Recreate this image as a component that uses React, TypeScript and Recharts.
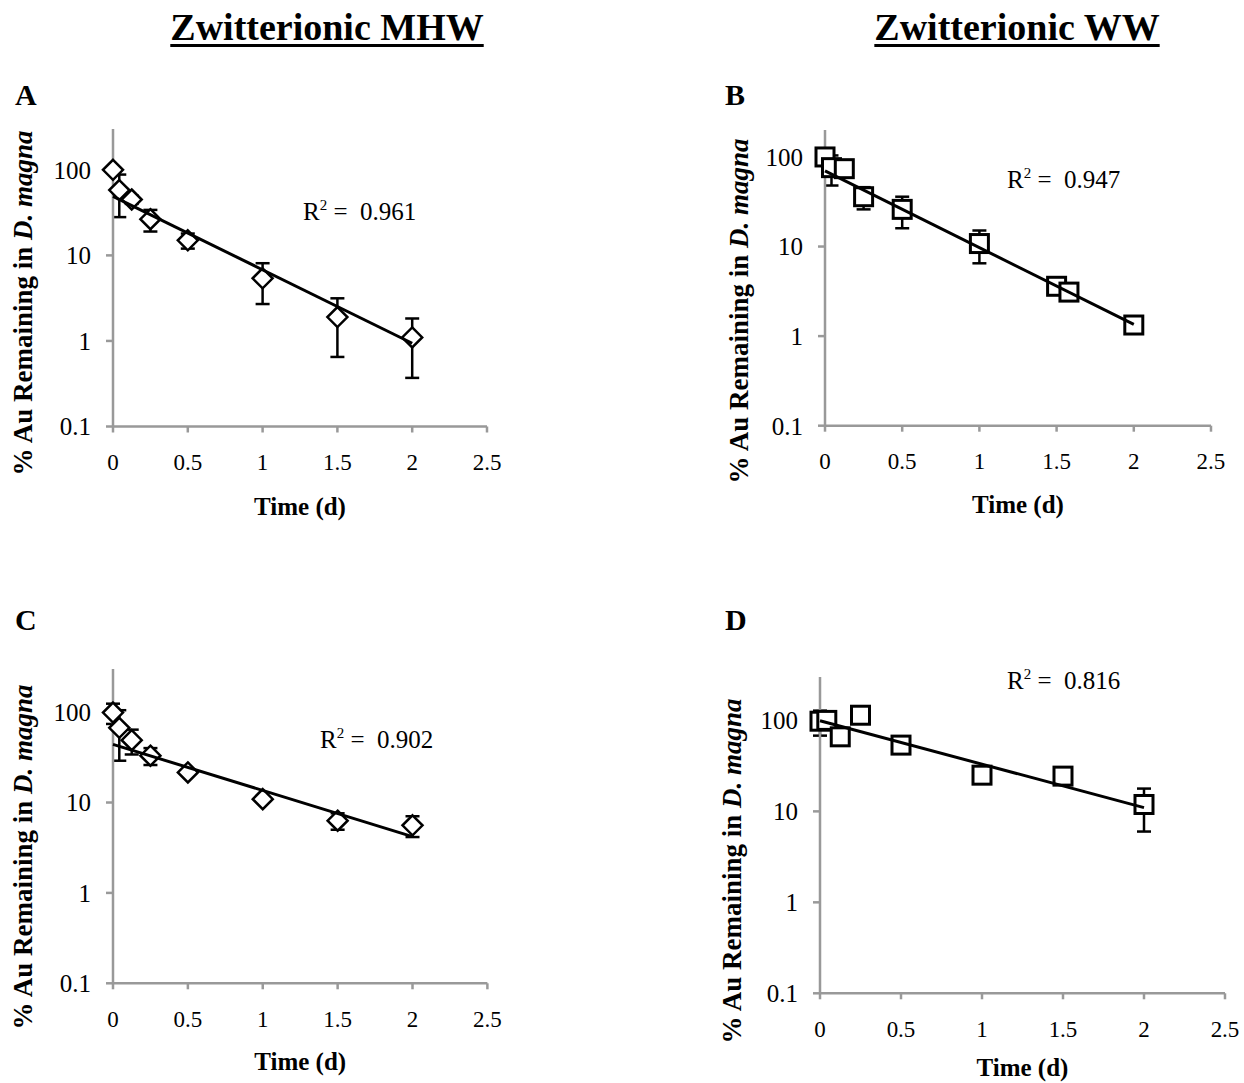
import { ScatterChart, Scatter, XAxis, YAxis, ErrorBar } from "recharts"

// sampling times (d)
const timesA = [0, 0.042, 0.125, 0.25, 0.5, 1, 1.5, 2]
const timesB = [0, 0.042, 0.125, 0.25, 0.5, 1, 1.5, 1.58, 2]
const timesC = [0, 0.042, 0.125, 0.25, 0.5, 1, 1.5, 2]
const timesD = [0, 0.042, 0.125, 0.25, 0.5, 1, 1.5, 2]

// % Au remaining (mean) and error (+/-)
const valuesA = [100, 58, 45, 26.5, 15, 5.4, 1.9, 1.1]
const errorsA = [0, 30, 5, 7.5, 3, 2.7, 1.25, 0.73]
const valuesB = [100, 76, 74, 36, 26, 10.8, 3.6, 3.1, 1.33]
const errorsB = [0, 28, 0, 10, 10, 4.3, 0, 0, 0]
const valuesC = [99, 67, 49, 33, 21.5, 10.9, 6.3, 5.6]
const errorsC = [25, 38, 15, 7, 0, 0, 1.3, 1.45]
const valuesD = [98, 100, 66, 114, 53.5, 25, 24.4, 11.9]
const errorsD = [30, 0, 0, 0, 0, 3, 0, 5.9]

// exponential trendline, value at start and end of fit
const trendTimes = [0, 2]
const trendA = [49, 0.94]
const trendB = [70, 1.35]
const trendC = [44, 4.2]
const trendD = [99, 11]

const r2Labels = ["0.961", "0.947", "0.902", "0.816"]
const xTicks = [0, 0.5, 1, 1.5, 2, 2.5]
const yTicks = [0.1, 1, 10, 100]

const FONT = '"Liberation Serif", "Times New Roman", serif'

const build = (t: number[], v: number[], e: number[]) =>
  t.map((x, i) => ({ t: x, v: v[i], e: e[i] }))
const buildTrend = (v: number[]) => trendTimes.map((x, i) => ({ t: x, v: v[i] }))

const Diamond = (props: any) => {
  const { cx, cy } = props
  if (cx == null || cy == null) return <g />
  const r = 10
  return (
    <path
      d={`M${cx},${cy - r}L${cx + r},${cy}L${cx},${cy + r}L${cx - r},${cy}Z`}
      fill="#fff"
      stroke="#000"
      strokeWidth={2.5}
    />
  )
}

const Square = (props: any) => {
  const { cx, cy } = props
  if (cx == null || cy == null) return <g />
  return <rect x={cx - 9} y={cy - 9} width={18} height={18} fill="#fff" stroke="#000" strokeWidth={3} />
}

const NoDot = () => <g />

interface PanelProps {
  data: { t: number; v: number; e: number }[]
  trend: { t: number; v: number }[]
  marker: "diamond" | "square"
  plot: { left: number; top: number; right: number; bottom: number }
  yMax: number
  xTitleY: number
  yTitleX: number
  yTitleY: number
}

const Panel = ({ data, trend, marker, plot, yMax, xTitleY, yTitleX, yTitleY }: PanelProps) => {
  const chartLeft = plot.left - 110
  const chartTop = plot.top - 10
  const width = plot.right - plot.left + 150
  const height = plot.bottom - plot.top + 110
  const xt = (plot.left + plot.right) / 2 - chartLeft
  const yt = xTitleY - chartTop
  const ytx = yTitleX - chartLeft
  const yty = yTitleY - chartTop

  return (
    <div style={{ position: "absolute", left: chartLeft, top: chartTop }}>
      <ScatterChart width={width} height={height} margin={{ top: 10, right: 40, left: 0, bottom: 0 }}>
        <XAxis
          dataKey="t"
          type="number"
          domain={[0, 2.5]}
          ticks={xTicks}
          height={100}
          axisLine={{ stroke: "#999", strokeWidth: 2.5 }}
          tickLine={{ stroke: "#999", strokeWidth: 2.5 }}
          tickSize={6}
          tickMargin={21}
          tick={{ fill: "#000", fontSize: 23, fontFamily: FONT }}
          label={{
            content: () => (
              <text
                x={xt}
                y={yt}
                textAnchor="middle"
                dominantBaseline="central"
                fontFamily={FONT}
                fontWeight="bold"
                fontSize={25}>
                Time (d)
              </text>
            ),
          }}
        />
        <YAxis
          dataKey="v"
          type="number"
          scale="log"
          domain={[0.1, yMax]}
          ticks={yTicks}
          width={110}
          axisLine={{ stroke: "#999", strokeWidth: 2.5 }}
          tickLine={{ stroke: "#999", strokeWidth: 2.5 }}
          tickSize={7}
          tickMargin={15}
          tick={{ fill: "#000", fontSize: 25, fontFamily: FONT }}
          tickFormatter={(v: number) => String(v)}
          label={{
            content: () => (
              <text
                x={ytx}
                y={yty}
                transform={`rotate(-90 ${ytx} ${yty})`}
                textAnchor="middle"
                dominantBaseline="central"
                fontFamily={FONT}
                fontWeight="bold"
                fontSize={27}>
                % Au Remaining in <tspan fontStyle="italic">D. magna</tspan>
              </text>
            ),
          }}
        />
        <Scatter
          data={data}
          dataKey="v"
          shape={marker === "diamond" ? Diamond : Square}
          isAnimationActive={false}>
          <ErrorBar dataKey="e" direction="y" width={7} stroke="#000" strokeWidth={2.5} />
        </Scatter>
        <Scatter
          data={trend}
          dataKey="v"
          line={{ stroke: "#000", strokeWidth: 3 }}
          shape={NoDot}
          isAnimationActive={false}
        />
      </ScatterChart>
    </div>
  )
}

const R2 = ({ x, y, value }: { x: number; y: number; value: string }) => (
  <text x={x} y={y} fontFamily={FONT} fontSize={25} style={{ whiteSpace: "pre" }}>
    R
    <tspan dy={-10} fontSize={15}>
      2
    </tspan>
    <tspan dy={10}>{" =  " + value}</tspan>
  </text>
)

const headerStyle = {
  position: "absolute" as const,
  top: 8,
  transform: "translateX(-50%)",
  fontFamily: FONT,
  fontWeight: "bold" as const,
  fontSize: 38,
  lineHeight: "38px",
  textDecoration: "underline",
  textDecorationThickness: "3px",
  textUnderlineOffset: "4px",
  whiteSpace: "nowrap" as const,
}

export default function App() {
  return (
    <div style={{ position: "absolute", left: 0, top: 0, width: 1244, height: 1083, background: "#fff" }}>
      <div style={{ ...headerStyle, left: 327 }}>Zwitterionic MHW</div>
      <div style={{ ...headerStyle, left: 1017 }}>Zwitterionic WW</div>

      <Panel
        data={build(timesA, valuesA, errorsA)}
        trend={buildTrend(trendA)}
        marker="diamond"
        plot={{ left: 113, top: 129, right: 487, bottom: 426.5 }}
        yMax={300}
        xTitleY={506}
        yTitleX={23}
        yTitleY={303}
      />
      <Panel
        data={build(timesB, valuesB, errorsB)}
        trend={buildTrend(trendB)}
        marker="square"
        plot={{ left: 825, top: 130, right: 1211, bottom: 425.7 }}
        yMax={200}
        xTitleY={505}
        yTitleX={739}
        yTitleY={311}
      />
      <Panel
        data={build(timesC, valuesC, errorsC)}
        trend={buildTrend(trendC)}
        marker="diamond"
        plot={{ left: 113.3, top: 669, right: 487.7, bottom: 983.3 }}
        yMax={300}
        xTitleY={1062}
        yTitleX={23}
        yTitleY={857}
      />
      <Panel
        data={build(timesD, valuesD, errorsD)}
        trend={buildTrend(trendD)}
        marker="square"
        plot={{ left: 820, top: 677, right: 1225, bottom: 993.3 }}
        yMax={300}
        xTitleY={1068}
        yTitleX={732}
        yTitleY={871}
      />

      <svg
        width={1244}
        height={1083}
        style={{ position: "absolute", left: 0, top: 0, pointerEvents: "none" }}>
        <g fontFamily={FONT} fontWeight="bold" fontSize={30}>
          <text x={15} y={105}>A</text>
          <text x={725} y={105}>B</text>
          <text x={15} y={630}>C</text>
          <text x={725} y={630}>D</text>
        </g>
        <R2 x={303} y={220} value={r2Labels[0]} />
        <R2 x={1007} y={188} value={r2Labels[1]} />
        <R2 x={320} y={748} value={r2Labels[2]} />
        <R2 x={1007} y={689} value={r2Labels[3]} />
      </svg>
    </div>
  )
}
